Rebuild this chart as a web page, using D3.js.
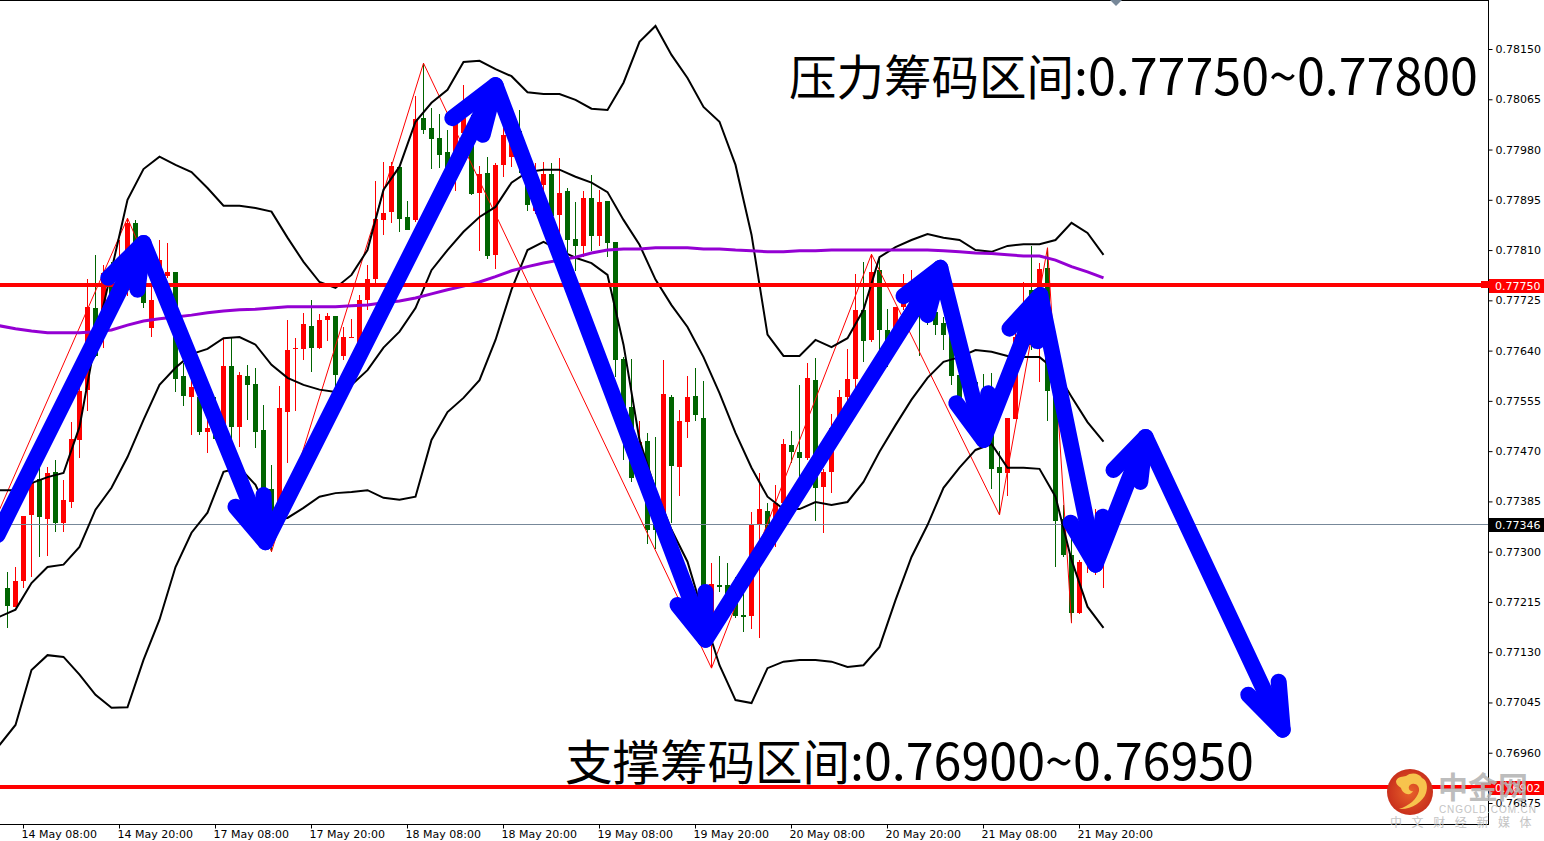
<!DOCTYPE html>
<html>
<head>
<meta charset="utf-8">
<style>
  html, body { margin: 0; padding: 0; background: #fff; overflow: hidden; }
  svg { display: block; }
  .ax text { font-family: "DejaVu Sans", sans-serif; font-size: 11px; fill: #000; }
</style>
<script src="https://d3js.org/d3.v7.min.js"></script>
</head>
<body>
<div id="chart"></div>
<script>
// all prices are in points, 77750 means 0.77750
var opens = [77239,77207,77251,77362,77423,77355,77435,77349,77384,77489,77574,77712,77700,77773,77729,77743,77856,77785,77678,77768,77766,77773,77597,77562,77562,77503,77503,77506,77614,77511,77597,77584,77506,77406,77371,77536,77643,77643,77682,77645,77692,77699,77631,77663,77646,77726,77761,77861,77875,77951,77866,77861,78033,78017,78000,77976,77937,78008,78008,77907,77940,77802,77954,77968,78011,77940,77876,77920,77939,77869,77910,77829,77817,77898,77834,77893,77824,77626,77545,77425,77487,77388,77366,77562,77443,77519,77563,77526,77176,77244,77244,77213,77193,77191,77345,77369,77354,77382,77481,77469,77459,77590,77410,77435,77494,77562,77592,77709,77658,77776,77675,77663,77714,77709,77721,77717,77705,77687,77670,77599,77602,77587,77574,77511,77443,77433,77524,77641,77743,77646,77780,77562,77355,77294,77196,77283,77286,77286];
var highs = [77266,77274,77360,77426,77443,77443,77455,77421,77519,77590,77761,77802,77785,77790,77827,77864,77861,77832,77756,77827,77822,77773,77619,77624,77624,77528,77562,77661,77661,77604,77616,77611,77548,77447,77580,77692,77661,77704,77726,77702,77704,77699,77680,77694,77734,77785,77927,77959,77959,77951,77893,78071,78126,78050,78040,78013,78035,78089,78039,77952,77968,77957,78017,78013,78047,77940,77957,77959,77957,77966,77915,77891,77910,77937,77912,77893,77824,77629,77626,77521,77501,77494,77624,77565,77540,77597,77611,77589,77281,77293,77281,77257,77240,77367,77433,77382,77413,77491,77504,77582,77619,77628,77440,77533,77574,77643,77770,77790,77803,77798,77711,77714,77770,77776,77751,77734,77734,77697,77670,77599,77602,77587,77601,77602,77470,77526,77675,77756,77817,77788,77814,77574,77379,77325,77286,77320,77372,77371];
var lows = [77171,77207,77239,77257,77291,77293,77333,77333,77374,77459,77538,77629,77645,77709,77726,77733,77731,77712,77663,77726,77763,77570,77546,77497,77497,77467,77489,77489,77484,77477,77523,77475,77388,77300,77367,77450,77538,77624,77604,77643,77656,77536,77624,77663,77641,77709,77748,77836,77856,77841,77844,77858,78006,77947,77949,77917,77910,77979,77903,77809,77795,77778,77934,77951,77940,77876,77871,77864,77866,77827,77793,77775,77798,77809,77817,77798,77595,77455,77418,77418,77313,77305,77362,77349,77394,77492,77521,77185,77103,77232,77205,77188,77164,77169,77154,77320,77308,77374,77450,77426,77455,77352,77332,77399,77489,77545,77562,77621,77655,77636,77612,77650,77709,77700,77631,77683,77666,77641,77582,77523,77540,77523,77481,77406,77362,77394,77524,77633,77641,77587,77521,77274,77291,77179,77195,77264,77261,77239];
var closes = [77208,77251,77360,77416,77359,77433,77349,77388,77491,77572,77714,77631,77771,77726,77793,77856,77768,77721,77726,77793,77773,77592,77563,77579,77503,77509,77491,77614,77511,77599,77582,77503,77399,77354,77543,77641,77645,77685,77645,77692,77699,77599,77663,77663,77726,77761,77863,77873,77952,77863,77844,78032,78013,77998,77971,77940,78030,78033,77905,77939,77800,77954,78005,77996,77962,77886,77895,77939,77868,77907,77827,77817,77898,77834,77891,77822,77624,77545,77425,77486,77337,77337,77567,77445,77521,77562,77531,77210,77245,77240,77218,77191,77190,77347,77372,77332,77382,77482,77469,77459,77594,77408,77435,77509,77562,77592,77709,77656,77773,77675,77641,77714,77726,77729,77697,77700,77683,77666,77597,77557,77574,77523,77489,77440,77433,77526,77663,77675,77650,77778,77572,77352,77294,77196,77283,77286,77337,77347];

// bollinger bands and the long moving average, read every second bar from bar -1
var bandUpper = [77404,77404,77416,77426,77433,77511,77658,77776,77895,77947,77968,77954,77942,77915,77885,77885,77881,77875,77831,77790,77756,77746,77768,77810,77912,77951,78027,78059,78081,78128,78130,78116,78104,78077,78074,78074,78064,78049,78047,78093,78162,78189,78140,78101,78052,78027,77954,77836,77667,77631,77631,77658,77646,77661,77709,77798,77815,77827,77837,77831,77827,77810,77807,77817,77820,77820,77827,77856,77839,77802];
var bandMiddle = [77190,77202,77247,77274,77278,77308,77371,77408,77460,77523,77582,77611,77634,77643,77661,77663,77650,77616,77594,77582,77574,77570,77582,77607,77645,77672,77712,77776,77810,77841,77866,77883,77924,77942,77946,77946,77934,77924,77908,77861,77819,77760,77717,77680,77629,77568,77501,77442,77393,77372,77372,77384,77379,77384,77418,77469,77514,77557,77594,77621,77629,77641,77638,77631,77629,77629,77607,77562,77519,77486];
var bandLower = [76973,77007,77100,77125,77122,77092,77058,77036,77037,77117,77185,77274,77332,77366,77435,77442,77413,77354,77357,77374,77393,77399,77401,77404,77391,77388,77393,77489,77536,77560,77590,77658,77743,77810,77824,77810,77797,77788,77768,77650,77489,77404,77337,77283,77193,77108,77049,77044,77103,77114,77117,77117,77114,77105,77108,77139,77218,77291,77345,77408,77442,77472,77482,77442,77442,77440,77393,77286,77207,77171];
var maLong = [77682,77677,77673,77670,77670,77670,77672,77675,77683,77690,77694,77697,77700,77704,77707,77709,77710,77712,77714,77714,77714,77714,77716,77717,77721,77724,77729,77736,77743,77749,77756,77765,77775,77782,77788,77793,77798,77805,77810,77812,77812,77814,77814,77814,77812,77812,77810,77809,77807,77807,77809,77809,77810,77810,77810,77810,77810,77810,77810,77809,77807,77805,77804,77802,77800,77800,77793,77782,77773,77763];

// zigzag turning points
var zigzagBars = [-1,15,33,52,88,108,124,130,133];
var zigzagVals = [77371,77864,77300,78126,77103,77803,77362,77814,77179];

// hand drawn blue arrow path and the two barbs at each of its tips
var arrowBars = [-1.25,17,32.25,61,87.25,116.6,122,129.1,136,142.25,159.4];
var arrowVals = [77328,77822,77316,78089,77151,77780,77489,77734,77278,77494,76999];
var barbBarsA = [12.6,28.5,55.6,83.75,112,118.6,125.25,132.9,138.25,155.1];
var barbValsA = [77763,77376,78033,77210,77732,77551,77677,77349,77438,77058];
var barbBarsB = [16.25,32,59.4,87.25,115,122.6,128.75,136.9,141.6,158.9];
var barbValsB = [77743,77396,78005,77232,77700,77568,77656,77359,77418,77080];

var priceTicks = [78150,78065,77980,77895,77810,77725,77640,77555,77470,77385,77300,77215,77130,77045,76960,76875];
var timeLabels = ["14 May 08:00","14 May 20:00","17 May 08:00","17 May 20:00","18 May 08:00","18 May 20:00","19 May 08:00","19 May 20:00","20 May 08:00","20 May 20:00","21 May 08:00","21 May 20:00"];
var timeBars = [2,14,26,38,50,62,74,86,98,110,122,134];

var pressureLevel = 77750, supportLevel = 76902, lastPrice = 77346;
var pressureLabel = "压力筹码区间", supportLabel = "支撑筹码区间";
var pressureRange = ":0.77750~0.77800", supportRange = ":0.76900~0.76950";

var width = 1544, height = 841, plotRight = 1488, plotBottom = 824;
var upColor = "#ff0000", downColor = "#006400", arrowColor = "#0000ff";

var svg = d3.select("#chart").append("svg")
  .attr("width", width)
  .attr("height", height);

var x = d3.scaleLinear().domain([0, 137]).range([7.5, 1103.5]);
var y = d3.scaleLinear().domain([78150, 76875]).range([49, 803]);

var fmt = function(v) { return (v / 100000).toFixed(5); };
var bandBar = function(i) { return -1 + 2 * i; };
var rowOf = function(v) { return Math.floor(y(v)) + 0.5; };

// clip so nothing runs over the price scale
svg.append("clipPath").attr("id", "plot")
  .append("rect").attr("x", 0).attr("y", 0).attr("width", plotRight).attr("height", plotBottom);
var plot = svg.append("g").attr("clip-path", "url(#plot)");

// candles
var candle = plot.selectAll(".candle").data(opens).enter().append("g")
  .attr("class", "candle")
  .attr("shape-rendering", "crispEdges")
  .attr("fill", function(d, i) { return closes[i] >= opens[i] ? upColor : downColor; })
  .attr("stroke", function(d, i) { return closes[i] >= opens[i] ? upColor : downColor; });

candle.append("line")
  .attr("x1", function(d, i) { return x(i); })
  .attr("x2", function(d, i) { return x(i); })
  .attr("y1", function(d, i) { return y(highs[i]); })
  .attr("y2", function(d, i) { return y(lows[i]); });

candle.append("rect")
  .attr("stroke", "none")
  .attr("x", function(d, i) { return x(i) - 2.5; })
  .attr("width", 5)
  .attr("y", function(d, i) { return y(Math.max(opens[i], closes[i])); })
  .attr("height", function(d, i) { return Math.max(1, y(Math.min(opens[i], closes[i])) - y(Math.max(opens[i], closes[i]))); });

// last price line
plot.append("line")
  .attr("x1", 0).attr("x2", plotRight)
  .attr("y1", rowOf(lastPrice)).attr("y2", rowOf(lastPrice))
  .attr("stroke", "#778899");

// zigzag
plot.append("path")
  .datum(zigzagBars)
  .attr("fill", "none").attr("stroke", upColor).attr("stroke-width", 1)
  .attr("d", d3.line().x(function(d) { return x(d); }).y(function(d, i) { return y(zigzagVals[i]); }));

// bands
var bandLine = d3.line()
  .x(function(d, i) { return x(bandBar(i)); })
  .y(function(d) { return y(d); });

[bandUpper, bandMiddle, bandLower].forEach(function(s) {
  plot.append("path").datum(s)
    .attr("fill", "none").attr("stroke", "#000").attr("stroke-width", 2)
    .attr("d", bandLine);
});

plot.append("path").datum(maLong)
  .attr("fill", "none").attr("stroke", "#9400d3").attr("stroke-width", 3)
  .attr("d", bandLine);

// horizontal levels
[pressureLevel, supportLevel].forEach(function(v) {
  svg.append("line")
    .attr("x1", 0).attr("x2", 1490)
    .attr("y1", Math.floor(y(v))).attr("y2", Math.floor(y(v)))
    .attr("stroke", upColor).attr("stroke-width", 4);
});

// blue arrows
var arrows = svg.append("g")
  .attr("fill", "none").attr("stroke", arrowColor).attr("stroke-width", 16)
  .attr("stroke-linecap", "round").attr("stroke-linejoin", "round");

arrows.append("path").datum(arrowBars)
  .attr("d", d3.line().x(function(d) { return x(d); }).y(function(d, i) { return y(arrowVals[i]); }));

barbBarsA.forEach(function(b, i) {
  var tip = [x(arrowBars[i + 1]), y(arrowVals[i + 1])];
  arrows.append("path").attr("d", d3.line()([[x(barbBarsA[i]), y(barbValsA[i])], tip, [x(barbBarsB[i]), y(barbValsB[i])]]));
});

// frame
svg.append("line").attr("x1", 0).attr("x2", plotRight + 1).attr("y1", 0.5).attr("y2", 0.5).attr("stroke", "#000");

// price scale
var yAxis = svg.append("g").attr("class", "ax")
  .attr("transform", "translate(" + (plotRight + 0.5) + ",0)")
  .call(d3.axisRight(y).tickValues(priceTicks).tickFormat(fmt).tickSize(4).tickPadding(3));
yAxis.select(".domain").attr("d", "M0,0V" + (plotBottom + 1));

// time scale
var xAxis = svg.append("g").attr("class", "ax")
  .attr("transform", "translate(0," + (plotBottom + 0.5) + ")")
  .call(d3.axisBottom(x).offset(0).tickValues(timeBars).tickFormat(function(d, i) { return timeLabels[i]; }).tickSize(4).tickPadding(2));
xAxis.select(".domain").attr("d", "M0,0H" + (plotRight + 1));
xAxis.selectAll("text").attr("text-anchor", "start").attr("x", -2).attr("y", 6);

// little marker at the top for the chart shift
svg.append("path").attr("d", "M1110,0H1122L1116,6Z").attr("fill", "#778899");

// price flags
function flag(v, bg) {
  svg.append("rect").attr("x", 1489).attr("y", Math.floor(y(v)) - 6).attr("width", 55).attr("height", 14).attr("fill", bg);
  svg.append("text").attr("x", 1495).attr("y", Math.floor(y(v)) + 5)
    .attr("font-family", "DejaVu Sans, sans-serif").attr("font-size", 11).attr("fill", "#fff")
    .text(fmt(v));
}
flag(pressureLevel, upColor);
flag(supportLevel, upColor);
flag(lastPrice, "#000");
[pressureLevel, supportLevel].forEach(function(v) {
  svg.append("rect").attr("x", 1481).attr("y", Math.floor(y(v)) - 4).attr("width", 8).attr("height", 7).attr("fill", upColor);
});

// the two big notes, digits are a bit larger than the chinese in the picture
function note(px, py, label, range) {
  var t = svg.append("text").attr("x", px).attr("y", py)
    .attr("font-family", "Noto Sans CJK SC").attr("fill", "#000");
  t.append("tspan").attr("font-size", 47.5).text(label);
  t.append("tspan").attr("font-size", 50.2).text(range);
}
note(789, 95, pressureLabel, pressureRange);
note(565, 780, supportLabel, supportRange);

// watermark
var logo = svg.append("g");
var grad = svg.append("defs").append("radialGradient").attr("id", "logoFill");
grad.append("stop").attr("offset", "0%").attr("stop-color", "#e8622a");
grad.append("stop").attr("offset", "100%").attr("stop-color", "#c9301c");
logo.append("circle").attr("cx", 1410).attr("cy", 792).attr("r", 23).attr("fill", "url(#logoFill)");
logo.append("path")
  .attr("d", "M1399,809C1409,806 1417,799 1419,791C1420,785 1414,782 1410,785C1407,788 1410,792 1413,791C1411,796 1403,795 1401,788C1399,786 1396,785 1396,781C1398,776 1403,777 1406,776C1411,772 1419,773 1422,778C1427,780 1428,787 1426,793C1423,802 1411,810 1399,809Z")
  .attr("fill", "#f7c34d");
logo.append("text").attr("x", 1438).attr("y", 798)
  .attr("font-family", "Noto Sans CJK SC").attr("font-weight", 700).attr("font-size", 30).attr("fill", "#b4b4b4").attr("fill-opacity", 0.9)
  .text("中金网");
logo.append("text").attr("x", 1439).attr("y", 813)
  .attr("font-family", "Liberation Sans").attr("font-size", 10).attr("letter-spacing", 0.9).attr("fill", "#c4c4c4")
  .text("CNGOLD.COM.CN");
logo.append("text").attr("x", 1390).attr("y", 827)
  .attr("font-family", "Noto Sans CJK SC").attr("font-size", 12).attr("letter-spacing", 9.6).attr("fill", "#c4c4c4")
  .text("中文财经新媒体");
</script>
</body>
</html>
